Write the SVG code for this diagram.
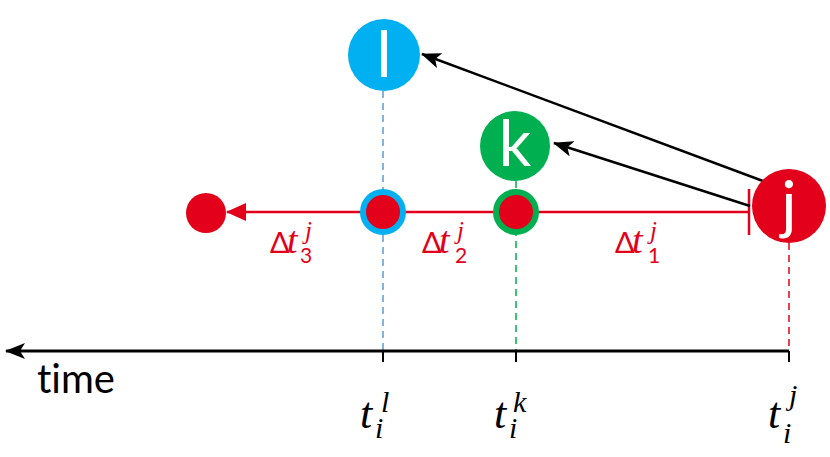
<svg xmlns="http://www.w3.org/2000/svg" width="830" height="457" viewBox="0 0 830 457">
<style>
.math{font-family:"Liberation Serif","DejaVu Serif",serif;font-style:italic}
.lbl{font-family:Lato,"Open Sans",sans-serif;fill:#fff}
.sans{font-family:Lato,"Open Sans",sans-serif;font-variant-ligatures:none;font-style:normal}
</style>
<defs>
<marker id="ab" viewBox="0 0 20 16" refX="19" refY="8" markerWidth="20" markerHeight="16" markerUnits="userSpaceOnUse" orient="auto">
<path d="M0,0 L20,8 L0,16 L5,8 Z" fill="#000"/>
</marker>
<marker id="ar" viewBox="0 0 20 18" refX="19" refY="9" markerWidth="20" markerHeight="18" markerUnits="userSpaceOnUse" orient="auto">
<path d="M0,0 L20,9 L0,18 Z" fill="#e2001a"/>
</marker>
</defs>
<rect width="830" height="457" fill="#fff"/>
<g id="connectors">
<line x1="383" y1="91" x2="383" y2="362" stroke="#5b9bd5" stroke-width="1.5" stroke-dasharray="7,5"/>
<line x1="516" y1="181" x2="516" y2="362" stroke="#00b050" stroke-width="1.5" stroke-dasharray="7,5"/>
<line x1="789" y1="243" x2="789" y2="352" stroke="#e2001a" stroke-width="1.5" stroke-dasharray="7,5"/>
<line x1="789" y1="351" x2="6" y2="351" stroke="#000" stroke-width="3" marker-end="url(#ab)"/>
<line x1="383" y1="351" x2="383" y2="362" stroke="#000" stroke-width="2"/>
<line x1="516" y1="351" x2="516" y2="362" stroke="#000" stroke-width="2"/>
<line x1="789" y1="351" x2="789" y2="362" stroke="#000" stroke-width="2"/>
<line x1="749" y1="212" x2="227" y2="212" stroke="#e2001a" stroke-width="2.5" marker-end="url(#ar)"/>
<line x1="749" y1="189" x2="749" y2="235" stroke="#e2001a" stroke-width="2.5"/>
<line x1="763" y1="181" x2="422" y2="54" stroke="#000" stroke-width="2.5" marker-end="url(#ab)"/>
<line x1="750" y1="206" x2="554" y2="143" stroke="#000" stroke-width="2.5" marker-end="url(#ab)"/>
</g>
<g id="node-l">
<circle cx="384" cy="55" r="36" fill="#00b0f0"/>
<text class="lbl" x="384" y="77" font-size="64" text-anchor="middle">l</text>
</g>
<g id="node-k">
<circle cx="515" cy="146" r="35" fill="#00b050"/>
<text class="lbl" x="515" y="166" font-size="64" text-anchor="middle">k</text>
</g>
<g id="node-j">
<circle cx="789" cy="206" r="37" fill="#e2001a"/>
<text class="lbl" x="789" y="227" font-size="64" text-anchor="middle">j</text>
</g>
<g id="dot-3">
<circle cx="206" cy="213" r="20" fill="#e2001a"/>
</g>
<g id="dot-l">
<circle cx="383" cy="212" r="20" fill="#e2001a" stroke="#00b0f0" stroke-width="6"/>
</g>
<g id="dot-k">
<circle cx="516" cy="212" r="20" fill="#e2001a" stroke="#00b050" stroke-width="6"/>
</g>
<g id="labels-delta" fill="#e2001a">
<text class="math" x="270" y="253" font-size="38"><tspan class="sans" font-size="29">Δ</tspan><tspan x="287">t</tspan><tspan x="305" y="239" font-size="25">j</tspan><tspan class="sans" x="300" y="263" font-size="21">3</tspan></text>
<text class="math" x="422" y="253" font-size="38"><tspan class="sans" font-size="29">Δ</tspan><tspan x="439">t</tspan><tspan x="457" y="239" font-size="25">j</tspan><tspan class="sans" x="455" y="263" font-size="21">2</tspan></text>
<text class="math" x="615" y="253" font-size="38"><tspan class="sans" font-size="29">Δ</tspan><tspan x="632">t</tspan><tspan x="650" y="239" font-size="25">j</tspan><tspan class="sans" x="648" y="263" font-size="21">1</tspan></text>
</g>
<g id="labels-axis" fill="#000">
<text class="sans" x="37" y="393" font-size="40">time</text>
<text class="math" x="360" y="428" font-size="44">t<tspan x="381" y="412" font-size="30">l</tspan><tspan x="375" y="438" font-size="30">i</tspan></text>
<text class="math" x="494" y="428" font-size="44">t<tspan x="513" y="412" font-size="30">k</tspan><tspan x="509" y="438" font-size="30">i</tspan></text>
<text class="math" x="768" y="428" font-size="44">t<tspan x="789" y="405" font-size="30">j</tspan><tspan x="783" y="443" font-size="30">i</tspan></text>
</g>
</svg>
